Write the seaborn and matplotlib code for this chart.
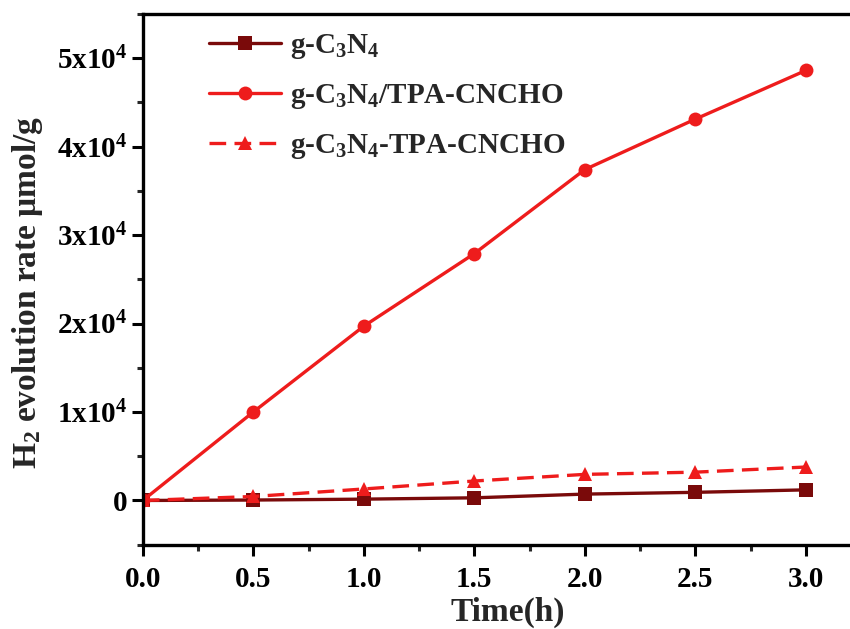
import numpy as np
import pandas as pd
import matplotlib
matplotlib.use("Agg")
import matplotlib.pyplot as plt
from matplotlib.ticker import MultipleLocator, FuncFormatter
import seaborn as sns

time_h = [0.0, 0.5, 1.0, 1.5, 2.0, 2.5, 3.0]
g_c3n4 = [0, 50, 150, 300, 720, 920, 1200]
g_c3n4_tpa = [0, 10000, 19700, 27900, 37400, 43100, 48600]
g_c3n4_minus_tpa = [0, 450, 1300, 2200, 2950, 3200, 3780]
labels = [r"g-C$_3$N$_4$", r"g-C$_3$N$_4$/TPA-CNCHO", r"g-C$_3$N$_4$-TPA-CNCHO"]

sns.set_theme(style="ticks")
plt.rcParams['font.family'] = ['Liberation Serif', 'DejaVu Serif']
plt.rcParams['mathtext.fontset'] = 'custom'
plt.rcParams['mathtext.rm'] = 'Liberation Serif:bold'
plt.rcParams['mathtext.it'] = 'Liberation Serif:bold'
plt.rcParams['mathtext.bf'] = 'Liberation Serif:bold'
plt.rcParams['font.weight'] = 'bold'

fig = plt.figure(figsize=(8.5, 6.29), dpi=100)
ax = fig.add_axes([0.168, 0.134, 0.832, 0.844])

series = [g_c3n4, g_c3n4_tpa, g_c3n4_minus_tpa]
colors = ["#7a0a0a", "#ee1c1c", "#ee1c1c"]
markers = ["s", "o", "^"]
styles = ["-", "-", "--"]
for vals, lab, c, m, ls in zip(series, labels, colors, markers, styles):
    df = pd.DataFrame({"t": time_h, "v": vals})
    kw = {} if ls == "-" else {"dashes": (5, 2.5)}
    sns.lineplot(data=df, x="t", y="v", ax=ax, color=c, marker=m, markersize=10,
                 linewidth=2.4, label=lab, markeredgewidth=0, **kw)

ax.set_xlim(0, 3.2)
ax.set_ylim(-5000, 55000)
ax.xaxis.set_major_locator(MultipleLocator(0.5))
ax.xaxis.set_minor_locator(MultipleLocator(0.25))
ax.yaxis.set_major_locator(MultipleLocator(10000))
ax.yaxis.set_minor_locator(MultipleLocator(5000))

def yfmt(v, pos):
    if abs(v) < 1e-9:
        return "0"
    n = int(round(v / 10000))
    return r"%dx10$^{4}$" % n

ax.yaxis.set_major_formatter(FuncFormatter(yfmt))
ax.xaxis.set_major_formatter(FuncFormatter(lambda v, p: "%.1f" % v))

for sp in ax.spines.values():
    sp.set_linewidth(2.4)
    sp.set_color("black")
ax.spines['right'].set_visible(False)
ax.tick_params(which='major', direction='out', length=8, width=2.2, labelsize=21,
               colors='black', pad=3)
ax.tick_params(which='minor', direction='out', length=4.5, width=2.2)
ax.tick_params(axis='x', which='major', pad=7)
for t in ax.get_xticklabels() + ax.get_yticklabels():
    t.set_fontweight('bold')

ax.set_xlabel("Time(h)", fontsize=24, fontweight='bold')
ax.set_ylabel(r"H$_2$ evolution rate μmol/g", fontsize=24, fontweight='bold')
ax.xaxis.set_label_coords(0.516, -0.098)
ax.yaxis.set_label_coords(-0.138, 0.475)

leg = ax.legend(loc='upper left', bbox_to_anchor=(0.093, 0.965), frameon=False,
                fontsize=21, handlelength=2.5, handletextpad=0.3, labelspacing=0.72,
                borderpad=0, borderaxespad=0)
for t in leg.get_texts():
    t.set_fontweight('bold')

fig.savefig("out.png", dpi=100)
